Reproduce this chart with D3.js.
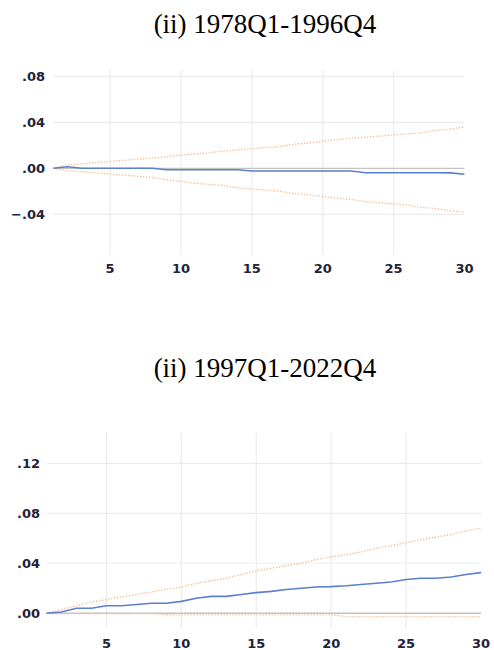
<!DOCTYPE html>
<html>
<head>
<meta charset="utf-8">
<script src="https://cdn.jsdelivr.net/npm/d3@7.9.0/dist/d3.min.js"></script>
<style>
  body { margin: 0; background: #fff; }
  .title { font-family: "Liberation Serif", "Times New Roman", serif; font-size: 27px; fill: #000; }
  .tick-label { font-family: "DejaVu Sans", Verdana, sans-serif; font-size: 13px; font-weight: bold; fill: #22223a; }
</style>
</head>
<body>
<svg id="chart" width="494" height="650"></svg>
<script>
// horizon 1..30
const steps = d3.range(1, 31);

// panel 1: 1978Q1-1996Q4
const resp1 = [0, 0.0014, 0, 0, 0, 0, 0, 0, -0.0012, -0.0012, -0.0012, -0.0012, -0.0012, -0.0012,
  -0.0023, -0.0023, -0.0023, -0.0023, -0.0023, -0.0023, -0.0023, -0.0023,
  -0.0038, -0.0038, -0.0038, -0.0038, -0.0038, -0.0038, -0.0040, -0.0052];
const upper1 = [0, 0.003, 0.004, 0.005, 0.006, 0.007, 0.008, 0.009, 0.010, 0.0115, 0.0125, 0.0135, 0.015, 0.016,
  0.017, 0.018, 0.019, 0.021, 0.022, 0.0235, 0.025, 0.026, 0.027, 0.028, 0.029, 0.030, 0.031, 0.033, 0.034, 0.036];
const lower1 = [0, -0.002, -0.003, -0.004, -0.005, -0.006, -0.007, -0.008, -0.010, -0.0115, -0.013, -0.014, -0.015, -0.017,
  -0.018, -0.019, -0.020, -0.022, -0.023, -0.0245, -0.026, -0.027, -0.029, -0.030, -0.031, -0.032, -0.034, -0.035, -0.037, -0.038];

// panel 2: 1997Q1-2022Q4
const resp2 = [0, 0.001, 0.004, 0.004, 0.006, 0.006, 0.007, 0.008, 0.008, 0.0095, 0.012, 0.0135, 0.0135, 0.015,
  0.0165, 0.0175, 0.019, 0.020, 0.021, 0.0213, 0.022, 0.023, 0.024, 0.025, 0.027, 0.028, 0.028, 0.029, 0.031, 0.0325];
const upper2 = [0, 0.003, 0.006, 0.009, 0.011, 0.013, 0.015, 0.017, 0.019, 0.021, 0.024, 0.026, 0.028, 0.031,
  0.034, 0.036, 0.038, 0.040, 0.043, 0.045, 0.047, 0.049, 0.052, 0.054, 0.0565, 0.059, 0.061, 0.063, 0.066, 0.068];
const lower2 = [0, -0.0005, -0.0003, -0.0002, -0.0002, -0.0004, -0.0003, -0.0003, -0.0012, -0.0013, -0.0013, -0.0013,
  -0.0013, -0.0013, -0.0013, -0.0013, -0.0013, -0.0013, -0.0013, -0.0013, -0.0027, -0.0027, -0.0027, -0.0027,
  -0.0027, -0.0027, -0.0027, -0.0027, -0.0027, -0.0027];

const xTicks = [5, 10, 15, 20, 25, 30];
const yTicks1 = [0.08, 0.04, 0.00, -0.04];
const yTicks2 = [0.12, 0.08, 0.04, 0.00];

const svg = d3.select("#chart");
const fmt = v => d3.format(".2f")(v).replace("0.", ".");

function drawPanel(opt) {
  const x = d3.scaleLinear().domain([1, 30]).range([opt.left, opt.right]);
  const y = d3.scaleLinear().domain(opt.yDomain).range([opt.bottom, opt.top]);
  const g = svg.append("g");

  svg.append("text")
    .attr("class", "title")
    .attr("x", 265).attr("y", opt.titleY)
    .attr("text-anchor", "middle")
    .text(opt.title);

  // vertical grid
  g.selectAll(".vgrid").data(xTicks.filter(d => d < 30)).join("line")
    .attr("x1", d => x(d)).attr("x2", d => x(d))
    .attr("y1", opt.top).attr("y2", opt.bottom)
    .attr("stroke", "#ececec").attr("stroke-width", 1.2);

  // horizontal grid
  g.selectAll(".hgrid").data(opt.yTicks.filter(d => d !== 0)).join("line")
    .attr("x1", opt.left).attr("x2", opt.right)
    .attr("y1", d => y(d)).attr("y2", d => y(d))
    .attr("stroke", "#ececec").attr("stroke-width", 1.2);

  // zero line
  g.append("line")
    .attr("x1", opt.left).attr("x2", opt.right)
    .attr("y1", y(0)).attr("y2", y(0))
    .attr("stroke", "#c4c4c4").attr("stroke-width", 1.3);

  const line = d3.line().x((d, i) => x(steps[i])).y(d => y(d));

  [opt.upper, opt.lower].forEach(band => {
    g.append("path")
      .attr("d", line(band))
      .attr("fill", "none")
      .attr("stroke", "#f7c196")
      .attr("stroke-width", 1.4)
      .attr("stroke-dasharray", "1.4,1.6");
  });

  g.append("path")
    .attr("d", line(opt.resp))
    .attr("fill", "none")
    .attr("stroke", "#5b80d0")
    .attr("stroke-width", 1.6);

  // y labels
  g.selectAll(".ylab").data(opt.yTicks).join("text")
    .attr("class", "tick-label")
    .attr("x", opt.labelRight).attr("y", d => y(d))
    .attr("dy", "0.36em")
    .attr("text-anchor", "end")
    .text(fmt);

  // x labels
  g.selectAll(".xlab").data(xTicks).join("text")
    .attr("class", "tick-label")
    .attr("x", d => x(d)).attr("y", opt.xLabelY)
    .attr("text-anchor", "middle")
    .text(d => d);
}

drawPanel({
  title: "(ii) 1978Q1-1996Q4", titleY: 33,
  left: 53.4, right: 464.5, top: 70, bottom: 255,
  yDomain: [-0.0754, 0.0855], yTicks: yTicks1,
  labelRight: 45, xLabelY: 273,
  resp: resp1, upper: upper1, lower: lower1
});

drawPanel({
  title: "(ii) 1997Q1-2022Q4", titleY: 377,
  left: 46.5, right: 481, top: 432.7, bottom: 628,
  yDomain: [-0.0118, 0.1445], yTicks: yTicks2,
  labelRight: 40, xLabelY: 648,
  resp: resp2, upper: upper2, lower: lower2
});
</script>
</body>
</html>
